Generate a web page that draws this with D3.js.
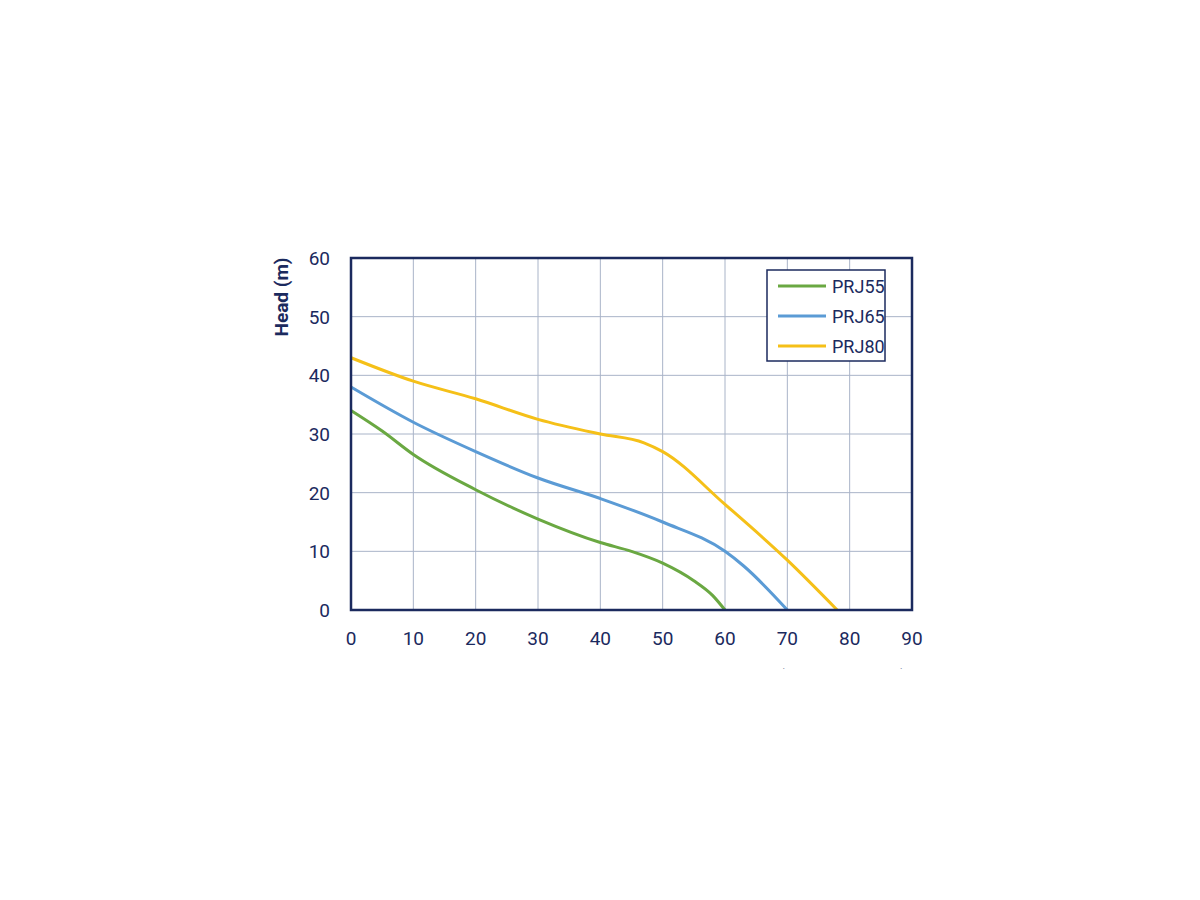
<!DOCTYPE html>
<html><head><meta charset="utf-8">
<script src="https://cdn.jsdelivr.net/npm/d3@7"></script>
<style>body{margin:0;background:#fff}</style>
</head><body>
<svg id="chart" width="1200" height="900"></svg>
<script>
var xTicks = [0,10,20,30,40,50,60,70,80,90];
var yTicks = [0,10,20,30,40,50,60];
var names = ["PRJ55","PRJ65","PRJ80"];
var colors = ["#6aa842","#5b9bd5","#f5c018"];
var prj55 = [[0,34],[5,30.5],[10,26.5],[20,20.5],[30,15.5],[40,11.5],[45,10],[50,8],[55,5],[58,2.5],[60,0]];
var prj65 = [[0,38],[10,32],[20,27],[30,22.5],[40,19],[50,15],[60,10],[63,7.5],[70,0]];
var prj80 = [[0,43],[10,39],[20,36],[30,32.5],[40,30],[47,28.5],[50,27],[60,18],[70,8.5],[78,0]];
var series = [prj55, prj65, prj80];

var navy = "#1b2a5e";
var svg = d3.select("#chart");
var x = d3.scaleLinear().domain([0,90]).range([351,912]);
var y = d3.scaleLinear().domain([0,60]).range([610,258]);
var font = "Roboto, 'DejaVu Sans', sans-serif";

// grid
svg.selectAll(".gx").data(xTicks).enter().append("line")
  .attr("x1", d => x(d)).attr("x2", d => x(d)).attr("y1", y(0)).attr("y2", y(60))
  .attr("stroke", "#a9b4c8").attr("stroke-width", 1);
svg.selectAll(".gy").data(yTicks).enter().append("line")
  .attr("x1", x(0)).attr("x2", x(90)).attr("y1", d => y(d)).attr("y2", d => y(d))
  .attr("stroke", "#a9b4c8").attr("stroke-width", 1);

// curves
var line = d3.line().x(d => x(d[0])).y(d => y(d[1])).curve(d3.curveMonotoneX);
series.forEach(function(s, i) {
  svg.append("path").attr("d", line(s)).attr("fill", "none")
    .attr("stroke", colors[i]).attr("stroke-width", 3);
});

// frame
svg.append("rect").attr("x", x(0)).attr("y", y(60))
  .attr("width", x(90) - x(0)).attr("height", y(0) - y(60))
  .attr("fill", "none").attr("stroke", navy).attr("stroke-width", 2.5);

// tick labels
svg.selectAll(".tx").data(xTicks).enter().append("text")
  .attr("x", d => x(d)).attr("y", 645).attr("text-anchor", "middle")
  .attr("font-family", font).attr("font-size", 19).attr("fill", navy).text(d => d);
svg.selectAll(".ty").data(yTicks).enter().append("text")
  .attr("x", 330).attr("y", d => y(d) + 7).attr("text-anchor", "end")
  .attr("font-family", font).attr("font-size", 19).attr("fill", navy).text(d => d);

// axis titles
svg.append("text").attr("transform", "translate(288,297) rotate(-90)")
  .attr("text-anchor", "middle").attr("font-family", font).attr("font-size", 19)
  .attr("font-weight", "bold").attr("fill", navy).text("Head (m)");
svg.append("clipPath").attr("id", "cut").append("rect")
  .attr("x", 0).attr("y", 0).attr("width", 1200).attr("height", 669);
svg.append("text").attr("x", 820).attr("y", 683).attr("text-anchor", "middle")
  .attr("clip-path", "url(#cut)")
  .attr("font-family", font).attr("font-size", 19).attr("font-weight", "bold")
  .attr("fill", navy).text("Flow (Litres/Minute)");

// legend
svg.append("rect").attr("x", 767).attr("y", 270).attr("width", 118).attr("height", 91)
  .attr("fill", "#fff").attr("stroke", navy).attr("stroke-width", 1.5);
names.forEach(function(n, i) {
  var ly = 286 + i * 30;
  svg.append("line").attr("x1", 778).attr("x2", 826).attr("y1", ly).attr("y2", ly)
    .attr("stroke", colors[i]).attr("stroke-width", 3);
  svg.append("text").attr("x", 832).attr("y", ly + 7).attr("font-family", font)
    .attr("font-size", 18).attr("fill", navy).text(n);
});
</script>
</body></html>
